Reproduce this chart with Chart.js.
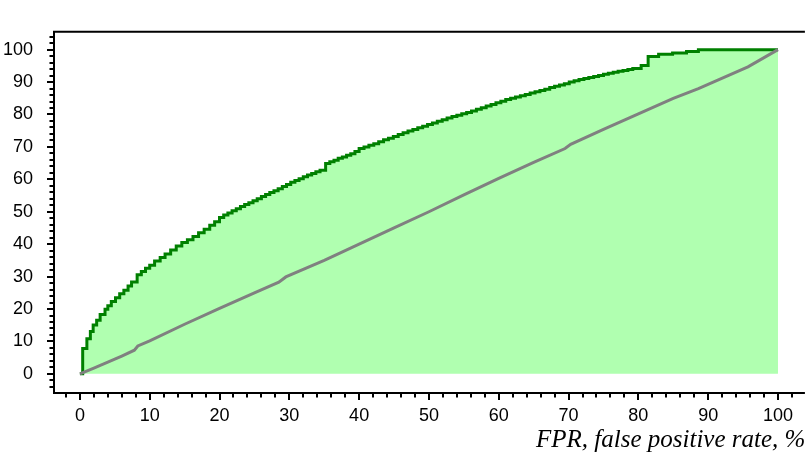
<!DOCTYPE html>
<html><head><meta charset="utf-8">
<script src="https://cdn.jsdelivr.net/npm/chart.js@4"></script>
<style>html,body{margin:0;padding:0;background:#fff;overflow:hidden}canvas{display:block}</style>
</head><body>
<canvas id="c" width="805" height="465"></canvas>
<script>
// ROC curve (stepped): false positive rate vs true positive rate, %
const rocFpr = [0, 0.4, 1.0, 1.5, 1.9, 2.4, 2.9, 3.6, 4.0, 4.5, 5.1, 5.7, 6.3, 6.9, 7.4, 8.2, 8.8, 9.4, 10.0, 10.7,
  11.5, 12.2, 13.0, 13.8, 14.6, 15.4, 16.2, 17.0, 17.8, 18.6, 19.3, 20.0, 20.6, 21.2, 21.8, 22.4, 23.0, 23.6, 24.2, 24.8,
  25.4, 26.0, 26.6, 27.2, 27.8, 28.4, 29.0, 29.6, 30.2, 30.8, 31.4, 32.0, 32.6, 33.2, 33.8, 34.4, 35.2, 35.8, 36.4, 37.0,
  37.6, 38.2, 38.8, 39.4, 40.0, 40.7, 41.4, 42.1, 42.8, 43.5, 44.2, 44.9, 45.6, 46.3, 47.0, 47.7, 48.4, 49.1, 49.8, 50.5,
  51.2, 51.9, 52.6, 53.3, 54.0, 54.7, 55.4, 56.1, 56.8, 57.5, 58.2, 58.9, 59.6, 60.3, 61.0, 61.7, 62.4, 63.1, 63.8, 64.5,
  65.2, 65.9, 66.6, 67.3, 68.0, 68.7, 69.4, 70.1, 70.8, 71.5, 72.2, 72.9, 73.6, 74.3, 75.0, 75.7, 76.4, 77.1, 77.8, 78.5,
  79.2, 80.4, 81.4, 82.9, 84.9, 86.9, 88.6, 100.0];
const rocTpr = [0, 7.8, 10.8, 13.1, 15.1, 16.5, 18.3, 19.9, 21.0, 22.3, 23.5, 24.7, 25.8, 27.1, 28.3, 30.6, 31.6, 32.6, 33.5, 34.8,
  35.9, 37.0, 38.2, 39.4, 40.5, 41.4, 42.4, 43.5, 44.6, 45.8, 46.9, 48.2, 49.0, 49.6, 50.3, 50.9, 51.6, 52.2, 52.8, 53.4,
  54.0, 54.7, 55.3, 55.9, 56.5, 57.1, 57.8, 58.4, 59.1, 59.6, 60.2, 60.8, 61.3, 61.8, 62.3, 62.8, 64.9, 65.4, 65.9, 66.5,
  66.9, 67.4, 67.9, 68.6, 69.5, 70.0, 70.5, 71.0, 71.6, 72.2, 72.7, 73.2, 73.8, 74.4, 74.9, 75.4, 75.9, 76.4, 76.9, 77.4,
  77.9, 78.4, 78.9, 79.4, 79.8, 80.2, 80.6, 81.1, 81.6, 82.1, 82.6, 83.1, 83.6, 84.1, 84.6, 85.0, 85.4, 85.8, 86.2, 86.6,
  87.0, 87.4, 87.8, 88.3, 88.7, 89.1, 89.5, 90.0, 90.4, 90.8, 91.1, 91.4, 91.7, 92.0, 92.4, 92.7, 93.0, 93.3, 93.6, 93.9,
  94.2, 95.1, 97.9, 98.6, 99.0, 99.4, 100.0, 100.0];
// Reference (random-classifier) line
const diagFpr = [0, 2, 4, 6, 7.8, 8.3, 10, 15, 20, 25, 28.5, 29.5, 35, 40, 45, 50, 55, 60, 65, 69.5, 70.3, 75, 80, 85, 88.6, 91.7, 95.7, 100];
const diagTpr = [0, 1.8, 3.6, 5.5, 7.3, 8.6, 10.2, 15.3, 20.2, 25.0, 28.3, 29.9, 35.0, 40.0, 45.0, 50.0, 55.2, 60.3, 65.2, 69.5, 70.8, 75.4, 80.2, 85.0, 88.0, 90.9, 94.7, 100];
const xTickLabels = [0, 10, 20, 30, 40, 50, 60, 70, 80, 90, 100];
const yTickLabels = [0, 10, 20, 30, 40, 50, 60, 70, 80, 90, 100];
const xAxisTitle = "FPR, false positive rate, %";

const rocPoints = rocFpr.map((x, i) => ({x, y: rocTpr[i]}));
const diagPoints = diagFpr.map((x, i) => ({x, y: diagTpr[i]}));

const framePlugin = {
  id: 'frame',
  afterDraw(chart) {
    const {ctx, chartArea: a, scales: {x, y}} = chart;
    ctx.save();
    ctx.strokeStyle = '#000';
    ctx.lineWidth = 2;
    ctx.beginPath();
    ctx.moveTo(a.left, a.bottom); ctx.lineTo(a.left, a.top); ctx.lineTo(a.right + 2, a.top);
    ctx.moveTo(a.left - 1, a.bottom); ctx.lineTo(a.right + 2, a.bottom);
    ctx.stroke();
    ctx.beginPath();
    for (let v = -2; v <= 104; v += 2) {
      const px = Math.round(x.getPixelForValue(v));
      if (px < a.left + 2 || px > a.right + 2) continue;
      const len = (v % 10 === 0) ? 6 : 3.5;
      ctx.moveTo(px, a.bottom + 1); ctx.lineTo(px, a.bottom + 1 + len);
    }
    for (let v = -4; v <= 104; v += 2) {
      const py = Math.round(y.getPixelForValue(v));
      if (py < a.top + 2 || py > a.bottom - 2) continue;
      const len = (v % 10 === 0) ? 6 : 3.5;
      ctx.moveTo(a.left - 1, py); ctx.lineTo(a.left - 1 - len, py);
    }
    ctx.stroke();
    ctx.fillStyle = '#000';
    ctx.font = 'italic 25px "Liberation Serif"';
    ctx.textAlign = 'left';
    ctx.textBaseline = 'alphabetic';
    ctx.fillText(xAxisTitle, 536, 447);
    ctx.restore();
  }
};

new Chart(document.getElementById('c'), {
  type: 'line',
  data: {
    datasets: [
      {
        data: diagPoints,
        borderColor: 'rgb(128,128,128)',
        borderWidth: 3,
        pointRadius: 0,
        fill: false,
        order: 0,
        tension: 0
      },
      {
        data: rocPoints,
        borderColor: 'rgb(0,128,0)',
        backgroundColor: 'rgb(176,255,176)',
        borderWidth: 3,
        pointRadius: 0,
        stepped: 'before',
        fill: 'origin',
        order: 1
      }
    ]
  },
  options: {
    responsive: false,
    animation: false,
    maintainAspectRatio: false,
    layout: {padding: {left: 0, right: 0, top: 6, bottom: 0}},
    plugins: {legend: {display: false}, tooltip: {enabled: false}},
    scales: {
      x: {
        type: 'linear',
        min: -3.71, max: 103.57,
        grid: {display: false, drawTicks: false},
        border: {display: false},
        afterBuildTicks: s => { s.ticks = xTickLabels.map(v => ({value: v})); },
        afterFit: s => { s.height = 72; },
        ticks: {color: '#000', font: {family: '"Liberation Sans"', size: 18}, padding: 12, maxRotation: 0, autoSkip: false}
      },
      y: {
        type: 'linear',
        min: -5.9, max: 105.5,
        grid: {display: false, drawTicks: false},
        border: {display: false},
        afterBuildTicks: s => { s.ticks = yTickLabels.map(v => ({value: v})); },
        afterFit: s => { s.width = 54; },
        ticks: {color: '#000', font: {family: '"Liberation Sans"', size: 18}, padding: 21, autoSkip: false}
      }
    }
  },
  plugins: [framePlugin]
});
</script>
</body></html>
